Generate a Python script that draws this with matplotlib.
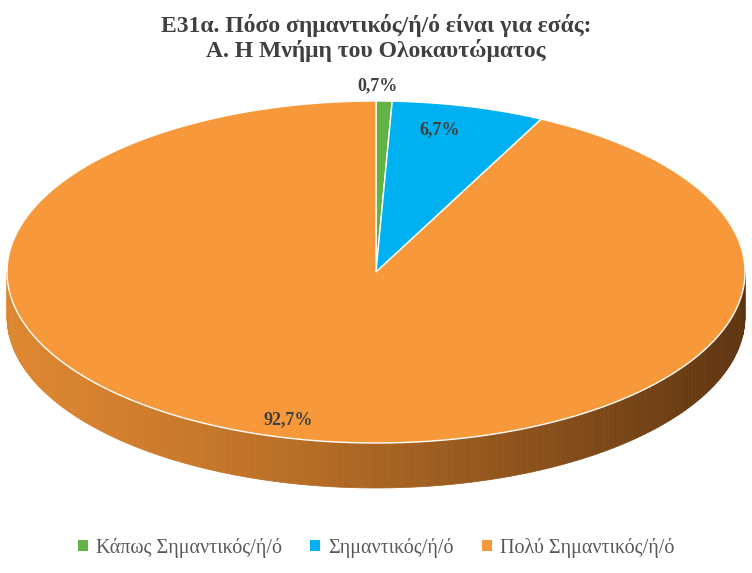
import numpy as np
import matplotlib
matplotlib.use("Agg")
import matplotlib.pyplot as plt
from matplotlib.patches import Polygon, Patch
from matplotlib.colors import to_rgb

labels = ["Κάπως Σημαντικός/ή/ό", "Σημαντικός/ή/ό", "Πολύ Σημαντικός/ή/ό"]
values = [0.7, 6.7, 92.7]
value_text = ["0,7%", "6,7%", "92,7%"]
colors = ["#62B246", "#00B0F0", "#F7993A"]
label_pos = [(378, 86), (440, 130), (288, 420)]

W, H = 752, 573
fig = plt.figure(figsize=(W / 100, H / 100), dpi=100)
ax = fig.add_axes([0, 0, 1, 1])
ax.set_xlim(0, W)
ax.set_ylim(H, 0)
ax.axis("off")

cx, cy, rx, ry, depth = 376, 272, 369, 171, 45

# side (front half), gradient light (left) -> dark (right)
light = np.array(to_rgb("#DD8630"))
dark = np.array(to_rgb("#5E3410"))
ts = np.linspace(np.pi, 0, 181)
for t0, t1 in zip(ts[:-1], ts[1:]):
    f = (1 + np.cos((t0 + t1) / 2)) / 2
    f = f ** 1.3
    c = light * (1 - f) + dark * f
    x0, x1 = cx + rx * np.cos(t0), cx + rx * np.cos(t1)
    y0, y1 = cy + ry * np.sin(t0), cy + ry * np.sin(t1)
    ax.add_patch(Polygon([(x0, y0), (x1, y1), (x1, y1 + depth), (x0, y0 + depth)],
                         closed=True, fc=c, ec=c, lw=0.5))

# top face wedges, clockwise from top
start = 0.0
total = sum(values)
for v, col in zip(values, colors):
    end = start + v / total * 2 * np.pi
    a = np.linspace(start, end, max(3, int(v * 4)))
    pts = [(cx, cy)] + [(cx + rx * np.sin(t), cy - ry * np.cos(t)) for t in a]
    ax.add_patch(Polygon(pts, closed=True, fc=col, ec="white", lw=1))
    start = end

for txt, (x, y) in zip(value_text, label_pos):
    ax.text(x, y, txt, ha="center", va="center", fontsize=13, fontweight="bold",
            color="#404040", family="Liberation Serif")

ax.text(W / 2, 38, "Ε31α. Πόσο σημαντικός/ή/ό είναι για εσάς:\nΑ. Η Μνήμη του Ολοκαυτώματος",
        ha="center", va="center", fontsize=17, fontweight="bold", color="#404040",
        family="Liberation Serif", linespacing=1.1)

handles = [Patch(fc=c, ec="none") for c in colors]
leg = fig.legend(handles, labels, loc="lower center", ncol=3, frameon=False,
                 bbox_to_anchor=(0.5, -0.005), prop={"family": "Liberation Serif", "size": 14.5},
                 handlelength=0.5, handleheight=0.5, columnspacing=1.4, handletextpad=0.4)
for t in leg.get_texts():
    t.set_color("#595959")

fig.savefig("out.png", dpi=100)
